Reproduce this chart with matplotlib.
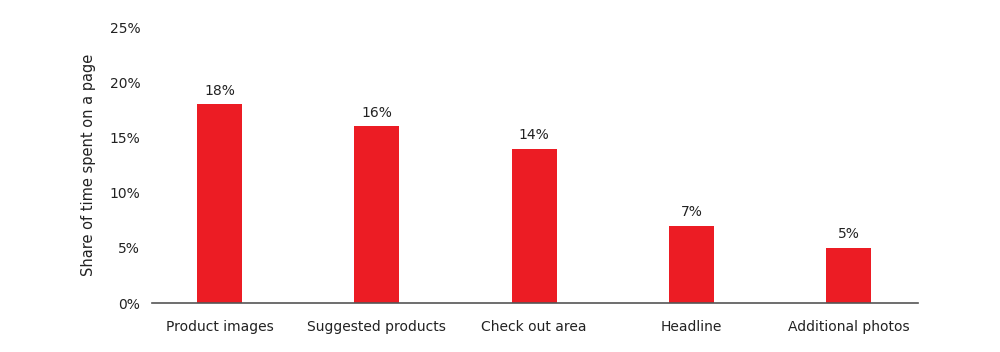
import numpy as np
import matplotlib.pyplot as plt
plt.rcParams["font.family"] = "DejaVu Sans"

categories = ["Product images", "Suggested products", "Check out area", "Headline", "Additional photos"]
shares = [18, 16, 14, 7, 5]
yticks = [0, 5, 10, 15, 20, 25]

fig = plt.figure(figsize=(10, 3.52), dpi=100)
ax = fig.add_axes([0.152, 0.139, 0.766, 0.784])

x = np.arange(len(categories))
bars = ax.bar(x, shares, width=0.286, color="#EC1C24", zorder=2)
for b, v in zip(bars, shares):
    ax.text(b.get_x() + b.get_width() / 2, v + 0.6, f"{v}%", ha="center", va="bottom",
            fontsize=10, color="#222222")

ax.set_xlim(-0.43, 4.44)
ax.set_ylim(0, 25)
ax.set_xticks(x)
ax.set_xticklabels(categories, fontsize=10, color="#222222")
ax.set_yticks(yticks)
ax.set_yticklabels([f"{t}%" for t in yticks], fontsize=10, color="#222222")
ax.tick_params(length=0, pad=12)
ax.tick_params(axis="y", pad=8.5)
ax.set_ylabel("Share of time spent on a page", fontsize=10.5, color="#222222", labelpad=10)

for s in ["top", "right", "left"]:
    ax.spines[s].set_visible(False)
ax.spines["bottom"].set_color("#555555")
ax.spines["bottom"].set_linewidth(1.2)

fig.savefig("out.png", dpi=100)
